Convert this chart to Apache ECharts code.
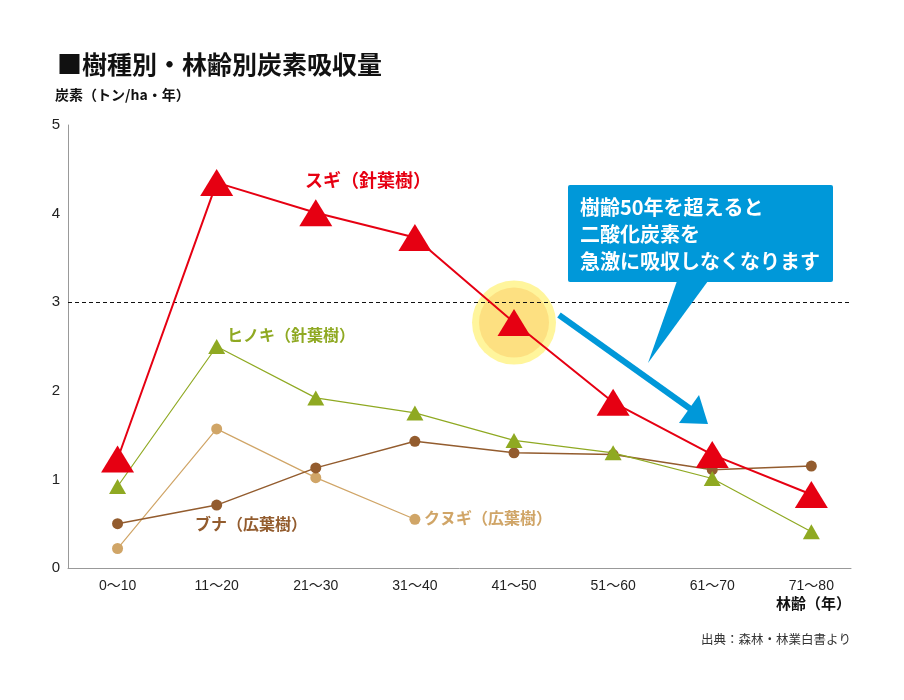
<!DOCTYPE html>
<html>
<head>
<meta charset="utf-8">
<script src="https://cdn.jsdelivr.net/npm/echarts@6/dist/echarts.min.js"></script>
<style>
html,body{margin:0;padding:0;background:#fff;}
#main{width:904px;height:700px;}
</style>
</head>
<body>
<div id="main"></div>
<script>
// ---- data ----
var categories = ['0〜10','11〜20','21〜30','31〜40','41〜50','51〜60','61〜70','71〜80'];
var sugi   = [1.23, 4.35, 4.01, 3.73, 2.77, 1.87, 1.28, 0.83];
var hinoki = [0.92, 2.50, 1.92, 1.75, 1.44, 1.30, 1.01, 0.41];
var buna   = [0.50, 0.71, 1.13, 1.43, 1.30, 1.28, 1.11, 1.15];
var kunugi = [0.22, 1.57, 1.02, 0.55, null, null, null, null];
var yTicks = [0, 1, 2, 3, 4, 5];
var refLine = 3;
var highlightIndex = 4;

var seriesNames = ['スギ（針葉樹）','ヒノキ（針葉樹）','ブナ（広葉樹）','クヌギ（広葉樹）'];

function pairs(arr){
  var out = [];
  arr.forEach(function(v, i){ if (v !== null) out.push([i, v]); });
  return out;
}
var catIdx = categories.map(function(c, i){ return i; });
var highlightData = [[highlightIndex, sugi[highlightIndex]]];

var JP = '"Noto Sans CJK JP", "Noto Sans", sans-serif';
var LAT = '"Liberation Sans", Arial, "Noto Sans CJK JP", sans-serif';

var chart = echarts.init(document.getElementById('main'), null, {renderer:'canvas'});

var option = {
  animation: false,
  backgroundColor: '#fff',
  title: {
    text: '■樹種別・林齢別炭素吸収量',
    left: 52, top: 47,
    textStyle: {fontFamily: JP, fontSize: 25, fontWeight: 'bold', color: '#111'}
  },
  grid: {left: 68, right: 53, top: 125, bottom: 132},
  xAxis: {
    type: 'value',
    min: -0.5, max: 7.4,
    axisLine: {show: true, onZero: false, lineStyle: {color: '#999', width: 1}},
    axisTick: {show: false},
    axisLabel: {
      fontFamily: LAT, fontSize: 14, color: '#222', margin: 11,
      customValues: catIdx,
      formatter: function(v){ return categories[Math.round(v)] || ''; }
    },
    splitLine: {show: false}
  },
  yAxis: {
    type: 'value',
    min: yTicks[0], max: yTicks[yTicks.length-1], interval: 1,
    axisLine: {show: true, onZero: false, lineStyle: {color: '#999', width: 1}},
    axisTick: {show: false},
    axisLabel: {fontFamily: LAT, fontSize: 15, color: '#222', margin: 8},
    splitLine: {show: false}
  },
  series: [
    {
      name: 'highlight-outer', type: 'scatter', data: highlightData,
      symbol: 'circle', symbolSize: 84, z: 1, silent: true,
      itemStyle: {color: '#fff383'}
    },
    {
      name: 'highlight-inner', type: 'scatter', data: highlightData,
      symbol: 'circle', symbolSize: 70, z: 1, silent: true,
      itemStyle: {color: '#fddb7b'}
    },
    {
      name: seriesNames[3], type: 'line', data: pairs(kunugi), z: 3,
      symbol: 'circle', symbolSize: 11, showSymbol: true,
      lineStyle: {color: '#d0a567', width: 1.2},
      itemStyle: {color: '#d0a567', borderWidth: 0}
    },
    {
      name: seriesNames[2], type: 'line', data: pairs(buna), z: 4,
      symbol: 'circle', symbolSize: 11,
      lineStyle: {color: '#935c2e', width: 1.5},
      itemStyle: {color: '#935c2e', borderWidth: 0}
    },
    {
      name: seriesNames[1], type: 'line', data: pairs(hinoki), z: 5,
      symbol: 'triangle', symbolSize: [17, 15],
      lineStyle: {color: '#8fa922', width: 1.2},
      itemStyle: {color: '#8fa922', borderWidth: 0}
    },
    {
      name: seriesNames[0], type: 'line', data: pairs(sugi), z: 6,
      symbol: 'triangle', symbolSize: [33, 27],
      lineStyle: {color: '#e60012', width: 2},
      itemStyle: {color: '#e60012', borderWidth: 0},
      markLine: {
        silent: true, symbol: ['none','none'],
        label: {show: false},
        lineStyle: {color: '#111', type: [4, 3], width: 1},
        data: [{yAxis: refLine}]
      }
    }
  ],
  graphic: [
    // y-axis name
    {type: 'text', left: 55, top: 88, z: 10,
     style: {text: '炭素（トン/ha・年）', font: 'bold 14px ' + JP, fill: '#111'}},
    // x-axis name
    {type: 'text', right: 53, top: 596, z: 10,
     style: {text: '林齢（年）', font: 'bold 15px ' + JP, fill: '#111'}},
    // source
    {type: 'text', right: 53, top: 633, z: 10,
     style: {text: '出典：森林・林業白書より', font: '12.5px ' + JP, fill: '#333'}},
    // series labels
    {type: 'text', left: 305, top: 171, z: 10,
     style: {text: seriesNames[0], font: 'bold 18px ' + JP, fill: '#e60012'}},
    {type: 'text', left: 227, top: 327, z: 10,
     style: {text: seriesNames[1], font: 'bold 16px ' + JP, fill: '#8fa922'}},
    {type: 'text', left: 195, top: 516, z: 10,
     style: {text: seriesNames[2], font: 'bold 16px ' + JP, fill: '#935c2e'}},
    {type: 'text', left: 424, top: 510, z: 10,
     style: {text: seriesNames[3], font: 'bold 16px ' + JP, fill: '#d0a567'}},
    // callout box
    {type: 'rect', z: 20, shape: {x: 568, y: 185, width: 265, height: 97, r: 2},
     style: {fill: '#0098d9'}},
    {type: 'polygon', z: 20, shape: {points: [[677, 281], [708, 281], [648, 363]]},
     style: {fill: '#0098d9'}},
    {type: 'text', z: 21, left: 580, top: 194,
     style: {text: '樹齢50年を超えると\n二酸化炭素を\n急激に吸収しなくなります',
             font: 'bold 20px ' + JP, fill: '#fff', lineHeight: 27}},
    // blue arrow
    {type: 'line', z: 20, shape: {x1: 559, y1: 315, x2: 692, y2: 410},
     style: {stroke: '#0098d9', lineWidth: 6}},
    {type: 'polygon', z: 20, shape: {points: [[679, 423], [708, 424], [699, 395]]},
     style: {fill: '#0098d9'}}
  ]
};
chart.setOption(option);
</script>
</body>
</html>
